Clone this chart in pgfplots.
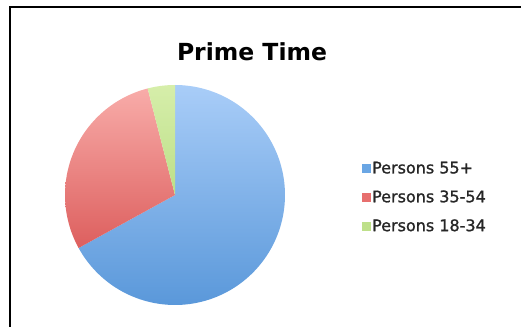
\documentclass[border=0pt]{standalone}
\usepackage{pgfplots}
\pgfplotsset{compat=1.18}
\usepackage{fontspec}
\setmainfont{DejaVu Sans}
\newfontfamily\legfont{DejaVu Sans}[FakeBold=1.2]
\definecolor{bluelight}{HTML}{A9CDF8}
\definecolor{bluedark}{HTML}{5A98DA}
\definecolor{bluekey}{HTML}{6AA6E4}
\definecolor{redlight}{HTML}{F8ACA9}
\definecolor{reddark}{HTML}{DD5F5E}
\definecolor{redkey}{HTML}{E76F6E}
\definecolor{greenlight}{HTML}{D6EEAA}
\definecolor{greendark}{HTML}{BCDF88}
\definecolor{greenkey}{HTML}{BEE08A}
\begin{document}
\begin{tikzpicture}[x=1pt,y=1pt]
\useasboundingbox (0,0) rectangle (521,326);
\draw[line width=2.2pt] (10,-2) -- (10,319) -- (523,319);
\node[font=\fontsize{23.5}{28}\bfseries\selectfont] at (252,274) {Prime Time};
\begin{axis}[
  at={(175pt,131pt)}, anchor=center,
  scale only axis, width=220pt, height=220pt,
  xmin=-1, xmax=1, ymin=-1, ymax=1,
  hide axis, clip=false,
  legend style={at={(axis cs:1.673,-0.02)}, anchor=west, draw=none, fill=none,
    font=\legfont\fontsize{16}{19}\selectfont, text=black!85, row sep=11.5pt,
    /tikz/every even column/.style={column sep=2pt}},
  legend cell align=left,
]
% Persons 55+ : 67%  (241.2 deg, clockwise from 12 o'clock)
\addplot[forget plot, draw=none, top color=bluelight, bottom color=bluedark,
  domain=-151.2:90, samples=120] ({cos(x)},{sin(x)}) -- (0,0) -- cycle;
% Persons 35-54 : 29%  (104.4 deg)
\addplot[forget plot, draw=none, top color=redlight, bottom color=reddark,
  domain=-255.6:-151.2, samples=60] ({cos(x)},{sin(x)}) -- (0,0) -- cycle;
% Persons 18-34 : 4%  (14.4 deg)
\addplot[forget plot, draw=none, top color=greenlight, bottom color=greendark,
  domain=-270:-255.6, samples=12] ({cos(x)},{sin(x)}) -- (0,0) -- cycle;
\addlegendimage{legend image code/.code={\fill[bluekey] (0pt,-3.8pt) rectangle (7.5pt,3.8pt);}}
\addlegendentry{Persons 55+}
\addlegendimage{legend image code/.code={\fill[redkey] (0pt,-3.8pt) rectangle (7.5pt,3.8pt);}}
\addlegendentry{Persons 35-54}
\addlegendimage{legend image code/.code={\fill[greenkey] (0pt,-3.8pt) rectangle (7.5pt,3.8pt);}}
\addlegendentry{Persons 18-34}
\end{axis}
\end{tikzpicture}
\end{document}
